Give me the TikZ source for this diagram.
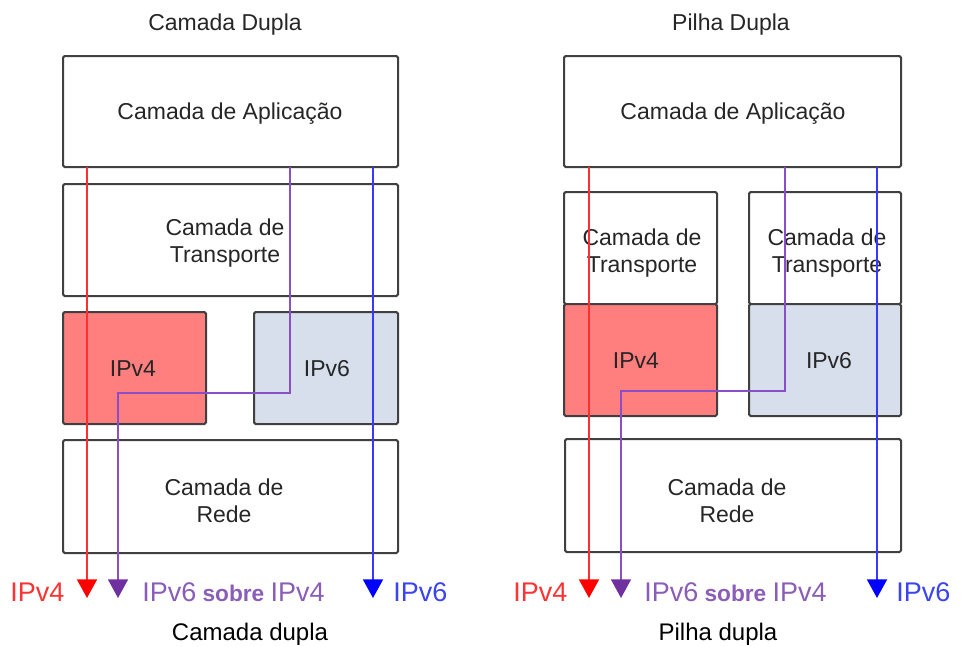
\documentclass[tikz,border=0pt]{standalone}
\usepackage{fontspec}
\setmainfont{Liberation Sans}
\usetikzlibrary{arrows.meta}
\definecolor{boxline}{HTML}{404040}
\definecolor{vfourfill}{HTML}{FF7F7F}
\definecolor{vsixfill}{HTML}{D6DFEB}
\definecolor{redln}{HTML}{FF3030}
\definecolor{redtip}{HTML}{FF0000}
\definecolor{purln}{HTML}{8A4FC8}
\definecolor{purtip}{HTML}{7030A0}
\definecolor{purtxt}{HTML}{8A5DB8}
\definecolor{bluln}{HTML}{3838FF}
\definecolor{blutip}{HTML}{0000FF}
\definecolor{blutxt}{HTML}{3A44F0}
\definecolor{redtxt}{HTML}{FF3333}
\newcommand\sobrefont{\bfseries\fontsize{17}{18}\selectfont}
\begin{document}
\begin{tikzpicture}[x=0.75pt,y=-0.75pt,
  box/.style={draw=boxline,line width=1.5pt,rounded corners=1.2pt,inner sep=0pt,outer sep=0pt},
  txt/.style={anchor=base,inner sep=0pt,align=center,font=\fontsize{17.25}{20.25}\selectfont,text=black!85},
  title/.style={anchor=base,inner sep=0pt,font=\fontsize{17.25}{21}\selectfont,text=black!85},
  caption/.style={anchor=base,inner sep=0pt,font=\fontsize{18}{22}\selectfont,text=black},
  lbl/.style={anchor=base west,inner sep=0pt,font=\fontsize{20.25}{22}\selectfont},
  redarrow/.style={draw=redln,line width=1.4pt,-{Triangle[length=14pt,width=15pt,color=redtip]}},
  purarrow/.style={draw=purln,line width=1.1pt,-{Triangle[length=14pt,width=15pt,color=purtip]}},
  bluarrow/.style={draw=bluln,line width=1.4pt,-{Triangle[length=14pt,width=15pt,color=blutip]}}
]
\useasboundingbox (0,0) rectangle (963,646);

% ---------- left: Camada Dupla ----------
\node[title] (tL) at (225,31) {Camada Dupla};
\node[box,minimum width=335*0.75pt,minimum height=111*0.75pt] (appL) at (230.5,111.5) {};
\node[box,minimum width=335*0.75pt,minimum height=112*0.75pt] (trL) at (230.5,240) {};
\node[box,fill=vfourfill,minimum width=143*0.75pt,minimum height=112*0.75pt] (v4L) at (134.5,368) {};
\node[box,fill=vsixfill,minimum width=144*0.75pt,minimum height=112*0.75pt] (v6L) at (326,368) {};
\node[box,minimum width=335*0.75pt,minimum height=113*0.75pt] (redeL) at (230.5,496.5) {};

\node[txt] (appLt) at (230,119) {Camada de Aplica\c{c}\~ao};
\node[txt] (trLt) at (225,262) {Camada de\\Transporte};
\node[txt] (v4Lt) at (133,376) {IPv4};
\node[txt] (v6Lt) at (327,376) {IPv6};
\node[txt] (redeLt) at (224,522) {Camada de\\Rede};

\coordinate (rLend) at (87,598);
\coordinate (pLturn) at (290,393);
\coordinate (pLend) at (118,598);
\coordinate (bLend) at (373,598);
\draw[redarrow] (appL.south -| rLend) -- (rLend);
\draw[purarrow] (appL.south -| pLturn) -- (pLturn) -| (pLend);
\draw[bluarrow] (appL.south -| bLend) -- (bLend);

\node[lbl,text=redtxt] (lv4L) at (10,601) {IPv4};
\node[lbl,text=purtxt] (lpL) at (142,601) {IPv6{\sobrefont\ sobre\ }IPv4};
\node[lbl,text=blutxt] (lv6L) at (393,601) {IPv6};
\node[caption] (cL) at (250,640) {Camada dupla};

% ---------- right: Pilha Dupla ----------
\node[title] (tR) at (731,31) {Pilha Dupla};
\node[box,minimum width=337*0.75pt,minimum height=111*0.75pt] (appR) at (732.5,111.5) {};
\node[box,minimum width=153*0.75pt,minimum height=112*0.75pt] (trR1) at (640.5,248) {};
\node[box,fill=vfourfill,minimum width=153*0.75pt,minimum height=112*0.75pt] (v4R) at (640.5,360) {};
\node[box,minimum width=152*0.75pt,minimum height=112*0.75pt] (trR2) at (825,248) {};
\node[box,fill=vsixfill,minimum width=152*0.75pt,minimum height=112*0.75pt] (v6R) at (825,360) {};
\node[box,minimum width=336*0.75pt,minimum height=113*0.75pt] (redeR) at (733,495.5) {};

\node[txt] (appRt) at (733,119) {Camada de Aplica\c{c}\~ao};
\node[txt] (trR1t) at (642,272) {Camada de\\Transporte};
\node[txt] (v4Rt) at (636,368) {IPv4};
\node[txt] (trR2t) at (827,272) {Camada de\\Transporte};
\node[txt] (v6Rt) at (829,368) {IPv6};
\node[txt] (redeRt) at (727,522) {Camada de\\Rede};

\coordinate (rRend) at (589,598);
\coordinate (pRturn) at (785,391);
\coordinate (pRend) at (621,598);
\coordinate (bRend) at (877,598);
\draw[redarrow] (appR.south -| rRend) -- (rRend);
\draw[purarrow] (appR.south -| pRturn) -- (pRturn) -| (pRend);
\draw[bluarrow] (appR.south -| bRend) -- (bRend);

\node[lbl,text=redtxt] (lv4R) at (513,601) {IPv4};
\node[lbl,text=purtxt] (lpR) at (644,601) {IPv6{\sobrefont\ sobre\ }IPv4};
\node[lbl,text=blutxt] (lv6R) at (896,601) {IPv6};
\node[caption] (cR) at (718,640) {Pilha dupla};
\end{tikzpicture}
\end{document}
